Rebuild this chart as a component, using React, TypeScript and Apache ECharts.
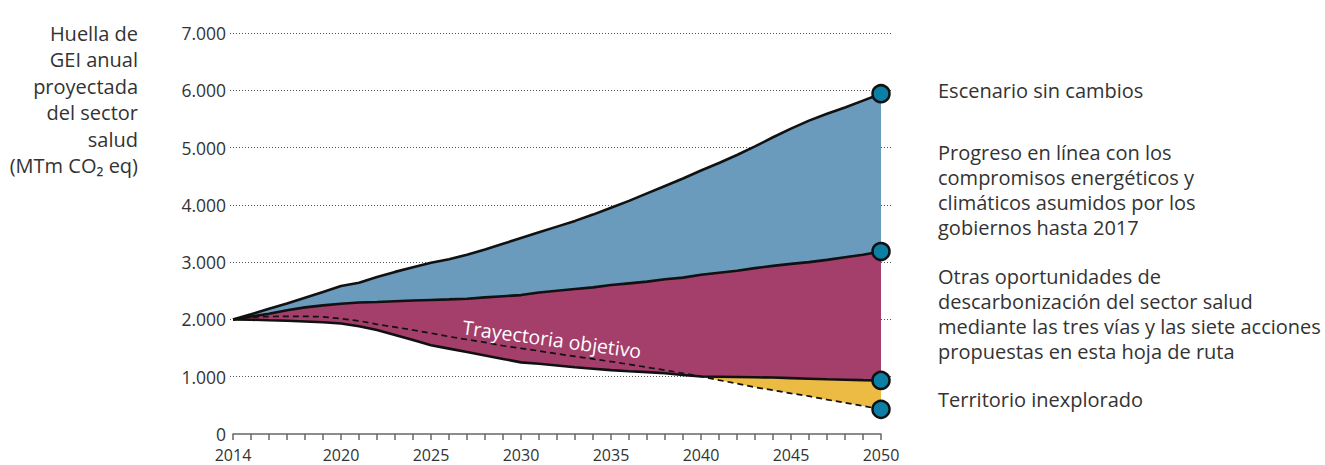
import React, { useEffect, useRef } from "react";
import * as echarts from "echarts";

const years = [
  2014, 2015, 2016, 2017, 2018, 2019, 2020, 2021, 2022, 2023, 2024, 2025, 2026,
  2027, 2028, 2029, 2030, 2031, 2032, 2033, 2034, 2035, 2036, 2037, 2038, 2039,
  2040, 2041, 2042, 2043, 2044, 2045, 2046, 2047, 2048, 2049, 2050,
];

// Escenario sin cambios
const sinCambios = [
  2000, 2090, 2185, 2280, 2380, 2480, 2583, 2640, 2740, 2830, 2910, 2990, 3050,
  3130, 3220, 3320, 3420, 3520, 3620, 3720, 3830, 3950, 4070, 4200, 4330, 4460,
  4600, 4730, 4870, 5020, 5180, 5330, 5470, 5590, 5700, 5820, 5940,
];

// Progreso en línea con los compromisos energéticos y climáticos
const compromisos = [
  2000, 2050, 2100, 2160, 2210, 2245, 2275, 2295, 2305, 2318, 2330, 2340, 2350,
  2362, 2385, 2405, 2425, 2470, 2500, 2530, 2560, 2600, 2630, 2660, 2700, 2730,
  2780, 2815, 2850, 2895, 2935, 2970, 3000, 3040, 3085, 3130, 3185,
];

// Otras oportunidades de descarbonización
const otrasOportunidades = [
  2000, 1995, 1985, 1978, 1965, 1950, 1930, 1880, 1815, 1730, 1640, 1550, 1490,
  1430, 1370, 1310, 1250, 1225, 1195, 1165, 1140, 1115, 1095, 1080, 1060, 1030,
  1005, 1000, 995, 990, 985, 975, 965, 955, 948, 940, 935,
];

// Trayectoria objetivo
const trayectoria = [
  2000, 2040, 2050, 2055, 2055, 2045, 2015, 1975, 1915, 1865, 1815, 1760, 1700,
  1650, 1600, 1540, 1495, 1450, 1400, 1355, 1310, 1265, 1215, 1165, 1115, 1060,
  1005, 940, 880, 815, 765, 710, 660, 600, 545, 490, 430,
];

const xLabelYears = [2014, 2020, 2025, 2030, 2035, 2040, 2045, 2050];
const yTicks = [0, 1000, 2000, 3000, 4000, 5000, 6000, 7000];
const yTickLabels = ["0", "1.000", "2.000", "3.000", "4.000", "5.000", "6.000", "7.000"];

const yTitleLines = [
  "Huella de",
  "GEI anual",
  "proyectada",
  "del sector",
  "salud",
  "(MTm CO₂ eq)",
];

const legendSinCambios = ["Escenario sin cambios"];
const legendCompromisos = [
  "Progreso en línea con los",
  "compromisos energéticos y",
  "climáticos asumidos por los",
  "gobiernos hasta 2017",
];
const legendOtras = [
  "Otras oportunidades de",
  "descarbonización del sector salud",
  "mediante las tres vías y las siete acciones",
  "propuestas en esta hoja de ruta",
];
const legendTerritorio = ["Territorio inexplorado"];
const targetLabel = "Trayectoria objetivo";

const COLORS = {
  blue: "#6a9bbd",
  magenta: "#a43f6b",
  yellow: "#ebbb44",
  dot: "#0c7fa6",
  text: "#333333",
};
const FONT = "'Open Sans', Lato, sans-serif";

export default function App() {
  const ref = useRef<HTMLDivElement>(null);

  useEffect(() => {
    if (!ref.current) return;
    const chart = echarts.init(ref.current, null, { renderer: "svg" });

    const cats = years.map(String);
    const magentaBand = years.map((_, i) => compromisos[i] - otrasOportunidades[i]);
    const blueBand = years.map((_, i) => sinCambios[i] - compromisos[i]);
    const yellowBand = years.map((_, i) => Math.max(0, otrasOportunidades[i] - trayectoria[i]));
    const last = years.length - 1;
    const endDots = [sinCambios, compromisos, otrasOportunidades, trayectoria].map((a) => [
      cats[last],
      a[last],
    ]);

    const textBlock = (lines: string[], x: number, topCenter: number, lh: number, align: string) => ({
      type: "text",
      x,
      y: topCenter - lh / 2,
      silent: true,
      style: {
        text: lines.join("\n"),
        fill: COLORS.text,
        fontSize: 20,
        fontFamily: FONT,
        lineHeight: lh,
        align,
        verticalAlign: "top",
      },
    });

    const gridColors = yTicks.map((v) => (v === 0 ? "rgba(0,0,0,0)" : "#555"));

    const common = { xAxisIndex: 1, yAxisIndex: 1, symbol: "none", silent: true };

    const band = (name: string, stack: string, data: number[], color?: string) => ({
      ...common,
      name,
      type: "line",
      stack,
      data,
      lineStyle: { width: 0, opacity: 0 },
      areaStyle: color ? { color, opacity: 1 } : undefined,
      z: 2,
    });

    const lineSeries = (name: string, arr: number[], dashed = false) => ({
      ...common,
      name,
      type: "line",
      data: arr,
      z: 5,
      lineStyle: dashed
        ? { color: "#111", width: 1.7, type: [6, 4] }
        : { color: "#111", width: 2.6 },
    });

    chart.setOption({
      animation: false,
      textStyle: { fontFamily: FONT },
      grid: [
        { left: 230, right: 432, top: 33, bottom: 31 },
        { left: 233, right: 444, top: 33, bottom: 31 },
      ],
      xAxis: [
        { gridIndex: 0, type: "value", min: 0, max: 1, show: false },
        {
          gridIndex: 1,
          type: "category",
          data: cats,
          boundaryGap: false,
          axisLine: { show: true, lineStyle: { color: "#666", width: 1.5 } },
          axisTick: { show: true, interval: 0, length: 6, lineStyle: { color: "#666", width: 1.5 } },
          splitLine: { show: false },
          axisLabel: {
            interval: 0,
            margin: 12,
            fontSize: 16,
            lineHeight: 17,
            color: COLORS.text,
            fontFamily: FONT,
            formatter: (v: string) => (xLabelYears.includes(Number(v)) ? v : ""),
          },
        },
      ],
      yAxis: [
        {
          gridIndex: 0,
          type: "value",
          min: 0,
          max: 7000,
          interval: 1000,
          axisLine: { show: false },
          axisTick: { show: false },
          axisLabel: {
            margin: 4,
            fontSize: 17.5,
            lineHeight: 18,
            color: COLORS.text,
            fontFamily: FONT,
            formatter: (v: number) => yTickLabels[yTicks.indexOf(v)] ?? "",
          },
          splitLine: {
            show: true,
            lineStyle: { color: gridColors, width: 1, type: [1, 2] },
          },
        },
        { gridIndex: 1, type: "value", min: 0, max: 7000, interval: 1000, show: false },
      ],
      series: [
        band("base", "a", otrasOportunidades),
        band("magentaBand", "a", magentaBand, COLORS.magenta),
        band("blueBand", "a", blueBand, COLORS.blue),
        band("base2", "b", trayectoria),
        band("yellowBand", "b", yellowBand, COLORS.yellow),
        lineSeries("Escenario sin cambios", sinCambios),
        lineSeries("Compromisos", compromisos),
        lineSeries("Otras oportunidades", otrasOportunidades),
        lineSeries("Trayectoria objetivo", trayectoria, true),
        {
          name: "dots",
          type: "scatter",
          xAxisIndex: 1,
          yAxisIndex: 1,
          data: endDots,
          symbolSize: 17,
          z: 10,
          itemStyle: { color: COLORS.dot, borderColor: "#111", borderWidth: 2.5, opacity: 1 },
          silent: true,
        },
      ],
      graphic: [
        textBlock(yTitleLines, 138, 33, 26.5, "right"),
        textBlock(legendSinCambios, 938, 90, 25, "left"),
        textBlock(legendCompromisos, 938, 152.5, 25, "left"),
        textBlock(legendOtras, 938, 276, 25.3, "left"),
        textBlock(legendTerritorio, 938, 399.5, 25, "left"),
        {
          type: "text",
          x: 552,
          y: 339,
          rotation: -0.134,
          silent: true,
          z: 20,
          style: {
            text: targetLabel,
            fill: "#ffffff",
            fontSize: 19.5,
            fontFamily: FONT,
            align: "center",
            verticalAlign: "middle",
          },
        },
      ],
    });

    return () => chart.dispose();
  }, []);

  return (
    <div
      ref={ref}
      style={{ position: "absolute", left: 0, top: 0, width: 1325, height: 465 }}
    />
  );
}
